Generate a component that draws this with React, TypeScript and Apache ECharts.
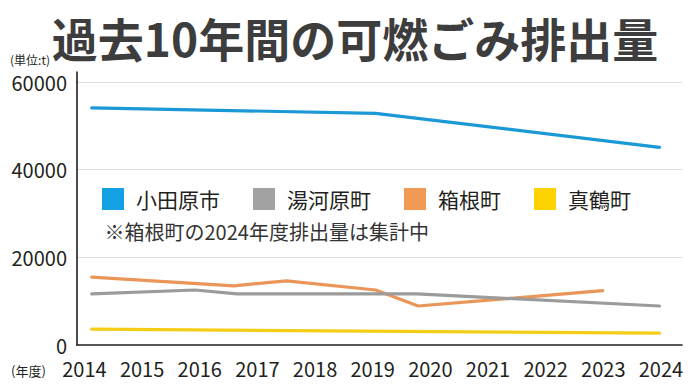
import React, { useEffect, useRef } from "react";
import * as echarts from "echarts";

const titleText = "過去10年間の可燃ごみ排出量";
const unitText = "(単位:t)";
const yearUnitText = "(年度)";
const noteText = "※箱根町の2024年度排出量は集計中";

const yearLabels = ["2014", "2015", "2016", "2017", "2018", "2019", "2020", "2021", "2022", "2023", "2024"];
const seriesNames = ["小田原市", "湯河原町", "箱根町", "真鶴町"];

// [fiscal year position, tonnes] read at the drawn vertices
const odawara = [[2014, 54100], [2019, 52850], [2024, 45100]];
const yugawara = [[2014, 11650], [2015.82, 12550], [2016.56, 11650], [2019.73, 11650], [2024, 8900]];
const hakone = [[2014, 15500], [2016.5, 13500], [2017.43, 14650], [2019, 12550], [2019.75, 8900], [2023, 12400]];
const manazuru = [[2014, 3600], [2024, 2700]];

const yMax = 60000;
const yTickStep = 20000;

const FONT = "'Noto Sans CJK JP', 'Noto Sans', sans-serif";

export default function App() {
  const ref = useRef<HTMLDivElement>(null);
  useEffect(() => {
    if (!ref.current) return;
    const chart = echarts.init(ref.current, undefined, { renderer: "svg" });
    const lineColors = ["#1b98d6", "#9b9b9b", "#ea9658", "#f5cd17"];
    const legendColors = ["#13a0e4", "#a2a2a2", "#f09a55", "#fdd200"];
    const datasets = [odawara, yugawara, hakone, manazuru];
    const drawOrder = [0, 2, 1, 3];
    chart.setOption({
      animation: false,
      textStyle: { fontFamily: FONT },
      grid: [
        { left: 77, right: 18, top: 82, bottom: 39 },
        { left: 55.6, right: 10.2, top: 82, bottom: 39 },
      ],
      xAxis: [
        {
          type: "value",
          gridIndex: 0,
          min: 2013.741,
          max: 2024.396,
          axisLine: { show: true, onZero: false, lineStyle: { color: "#231f20", width: 1.6 } },
          axisTick: { show: false },
          axisLabel: { show: false },
          splitLine: { show: false },
        },
        {
          type: "category",
          gridIndex: 1,
          data: yearLabels,
          boundaryGap: true,
          axisLine: { show: false },
          axisTick: { show: false },
          splitLine: { show: false },
          axisLabel: { fontSize: 20, color: "#231f20", margin: 13, fontFamily: FONT, interval: 0 },
        },
      ],
      yAxis: [
        {
          type: "value",
          gridIndex: 0,
          min: 0,
          max: yMax,
          interval: yTickStep,
          axisLine: { show: true, lineStyle: { color: "#231f20", width: 1.6 } },
          axisTick: { show: false },
          axisLabel: {
            fontSize: 20,
            color: "#231f20",
            margin: 10,
            fontFamily: FONT,
            formatter: (v: number) => String(v),
          },
          splitLine: { show: true, showMinLine: false, lineStyle: { color: "#dedede", width: 1 } },
        },
        {
          type: "value",
          gridIndex: 1,
          min: 0,
          max: 1,
          show: false,
        },
      ],
      legend: {
        left: 102,
        top: 188,
        padding: 0,
        icon: "rect",
        itemWidth: 22,
        itemHeight: 22,
        itemGap: 33,
        textStyle: { fontSize: 21, color: "#231f20", fontFamily: FONT, padding: [0, 0, 0, 7] },
        data: seriesNames.map((n, i) => ({ name: n, itemStyle: { color: legendColors[i] } })),
      },
      series: drawOrder.map((i) => ({
        name: seriesNames[i],
        type: "line",
        xAxisIndex: 0,
        yAxisIndex: 0,
        data: datasets[i],
        symbol: "none",
        showSymbol: false,
        color: lineColors[i],
        lineStyle: { color: lineColors[i], width: 3.2, cap: "round", join: "round" },
      })),
      graphic: [
        {
          type: "line",
          shape: { x1: 77, y1: 71.5, x2: 77, y2: 82.5 },
          style: { stroke: "#231f20", lineWidth: 1.6 },
        },
        {
          type: "text",
          x: 355,
          y: 37,
          style: {
            text: titleText,
            fontSize: 46,
            lineHeight: 44,
            fontWeight: "bold",
            fontFamily: FONT,
            fill: "#3d3d3d",
            textAlign: "center",
            textVerticalAlign: "middle",
          },
        },
        {
          type: "text",
          x: 50,
          y: 59,
          style: {
            text: unitText,
            fontSize: 12,
            lineHeight: 12,
            fontFamily: FONT,
            fill: "#231f20",
            textAlign: "right",
            textVerticalAlign: "middle",
          },
        },
        {
          type: "text",
          x: 11,
          y: 370,
          style: {
            text: yearUnitText,
            fontSize: 13,
            fontFamily: FONT,
            fill: "#231f20",
            textAlign: "left",
            textVerticalAlign: "middle",
          },
        },
        {
          type: "text",
          x: 104.5,
          y: 231.5,
          style: {
            text: noteText,
            fontSize: 20,
            fontFamily: FONT,
            fill: "#333333",
            textAlign: "left",
            textVerticalAlign: "middle",
          },
        },
      ],
    });
    return () => chart.dispose();
  }, []);
  return (
    <div
      ref={ref}
      style={{ position: "fixed", left: 0, top: 0, width: 700, height: 384, background: "#ffffff" }}
    />
  );
}
